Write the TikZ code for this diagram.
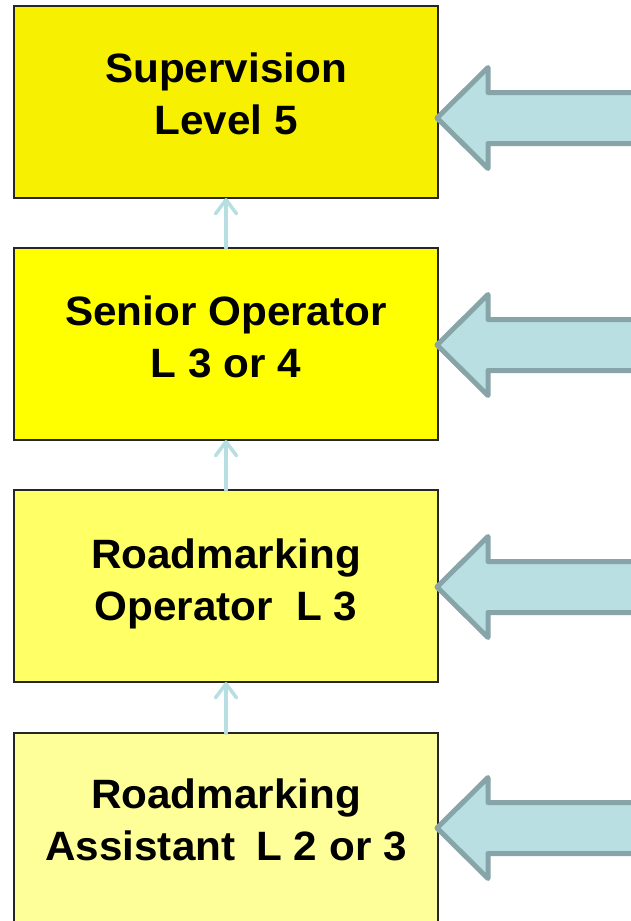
\documentclass[tikz,border=0pt]{standalone}
\usepackage{fontspec}
\setmainfont{Liberation Sans}
\usetikzlibrary{arrows.meta}

\definecolor{levelfive}{RGB}{247,240,0}
\definecolor{levelfour}{RGB}{255,255,0}
\definecolor{levelthree}{RGB}{255,255,102}
\definecolor{leveltwo}{RGB}{255,255,153}
\definecolor{linkcyan}{RGB}{183,223,226}
\definecolor{flowfill}{RGB}{185,223,226}
\definecolor{flowedge}{RGB}{135,165,168}

\newcommand{\twolines}[2]{\scalebox{1.03}[1]{\begin{tabular}[b]{@{}c@{}}#1\\#2\end{tabular}}}

\tikzset{
  levelbox/.style={draw=black!85, line width=2pt, minimum width=424pt,
    minimum height=192pt, anchor=north west, inner sep=0pt, outer sep=0pt},
  leveltext/.style={anchor=base, inner sep=0pt,
    font=\bfseries\fontsize{41}{52}\selectfont},
  stepup/.style={draw=linkcyan, line width=3.5pt, line cap=round,
    -{Straight Barb[length=14pt,width=21pt,round]}},
  inflow/.style={draw=flowedge, fill=flowfill, line width=5pt, line join=round},
}

\begin{document}
\begin{tikzpicture}[x=1pt, y=-1pt]
  \useasboundingbox (0,0) rectangle (631,921);
  \clip (0,0) rectangle (631,921);
  \fill[white] (0,0) rectangle (631,921);

  % the four qualification levels
  \node[levelbox, fill=levelfive]  (b1) at (14,6)   {};
  \node[levelbox, fill=levelfour]  (b2) at (14,248) {};
  \node[levelbox, fill=levelthree] (b3) at (14,490) {};
  \node[levelbox, fill=leveltwo]   (b4) at (14,733) {};

  \node[leveltext] (l1) at (226,134) {\twolines{Supervision}{Level 5}};
  \node[leveltext] (l2) at (226,377) {\twolines{Senior Operator}{L 3 or 4}};
  \node[leveltext] (l3) at (226,620) {\twolines{Roadmarking}{Operator\hspace{0.55em}L 3}};
  \node[leveltext] (l4) at (226,860) {\twolines{Roadmarking}{Assistant\hspace{0.5em}L 2 or 3}};

  % progression between levels
  \draw[stepup] (b2.north) -- (b1.south);
  \draw[stepup] (b3.north) -- (b2.south);
  \draw[stepup] (b4.north) -- (b3.south);

  % entry arrows from the right
  \coordinate (e1) at (437,118);
  \coordinate (e2) at (437,345);
  \coordinate (e3) at (437,587);
  \coordinate (e4) at (437,828);
  \foreach \e in {e1,e2,e3,e4}{
    \draw[inflow] (\e) -- ++(51,-50.5) -- ++(0,25) -- ++(160,0) -- ++(0,51)
      -- ++(-160,0) -- ++(0,25) -- cycle;
  }
\end{tikzpicture}
\end{document}
